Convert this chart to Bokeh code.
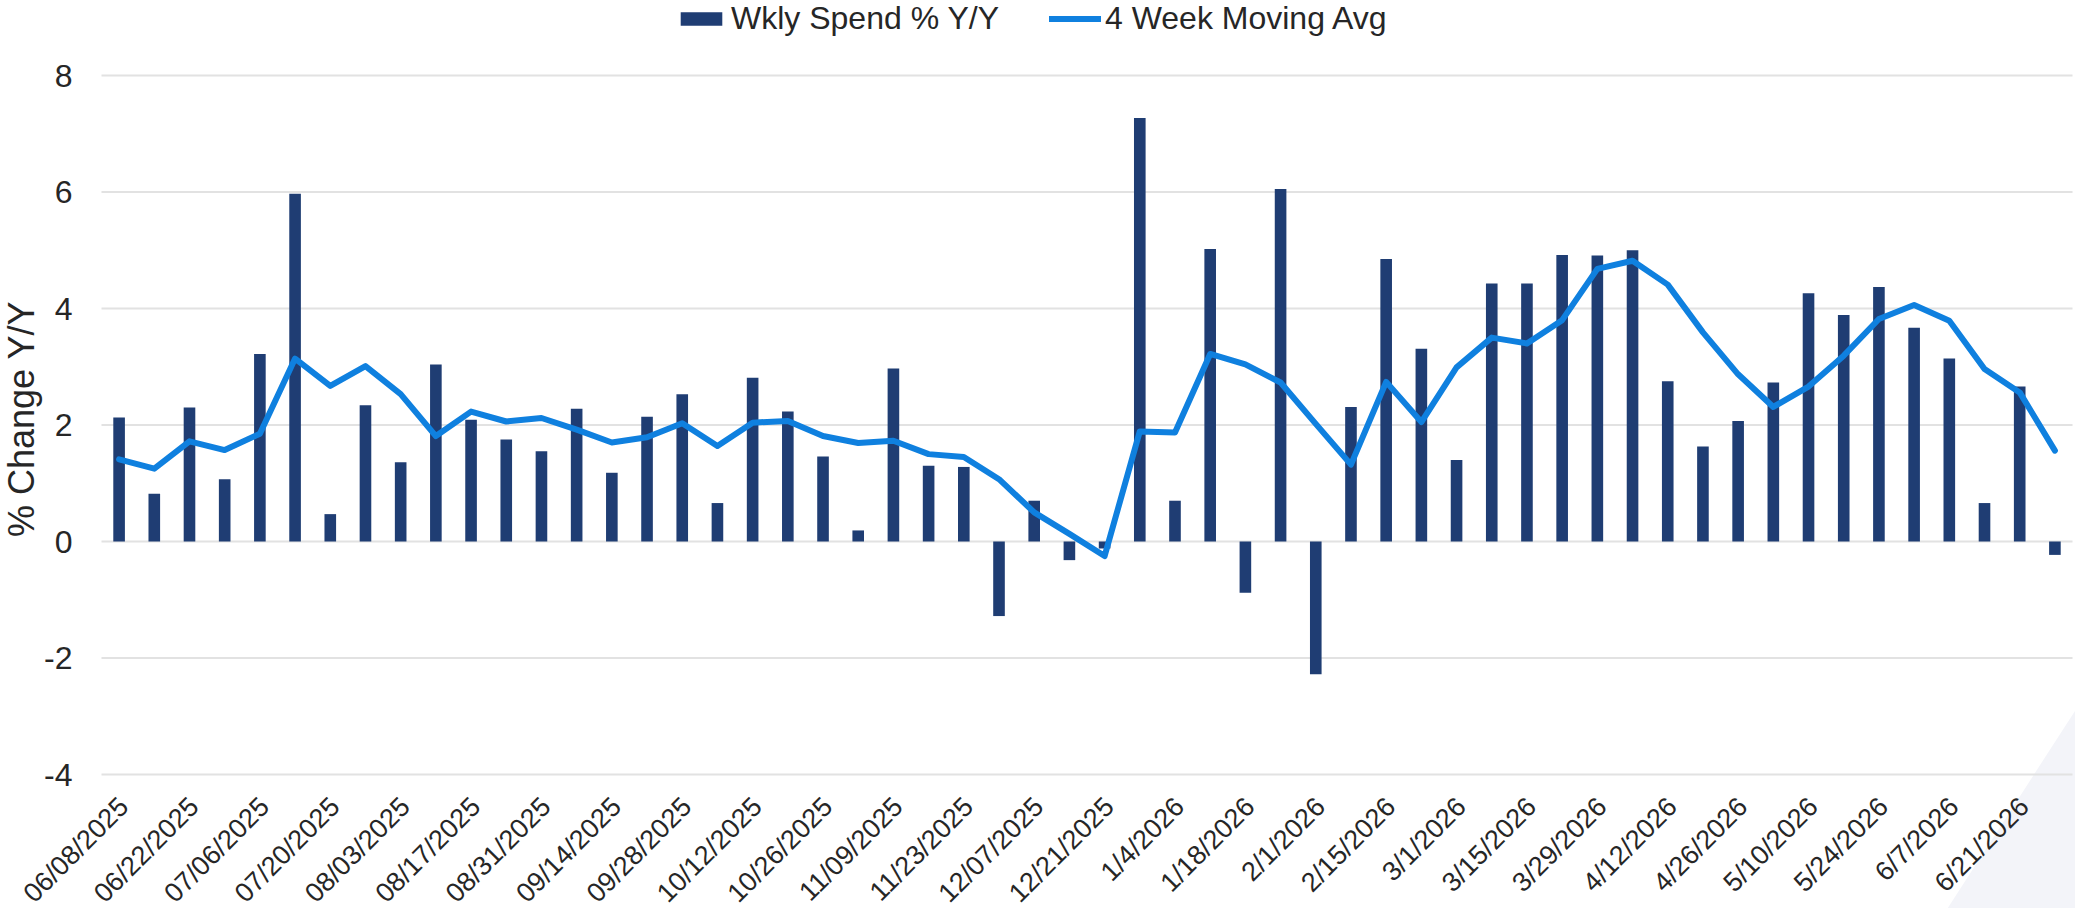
import math
import pandas as pd
from bokeh.plotting import figure
from bokeh.models import (ColumnDataSource, Range1d, Legend, LegendItem, Label,
                          PolyAnnotation, GlobalInlineStyleSheet, LabelSet)
from bokeh.core.properties import value
from bokeh.embed import file_html
from bokeh.resources import INLINE

# ---------------- data ----------------
weeks = pd.date_range("2025-06-08", periods=56, freq="7D")

weekly_spend = [2.13, 0.82, 2.30, 1.07, 3.22, 5.97, 0.47, 2.34, 1.36, 3.04,
                2.09, 1.75, 1.55, 2.28, 1.18, 2.14, 2.53, 0.66, 2.81, 2.23,
                1.46, 0.19, 2.97, 1.30, 1.28, -1.28, 0.70, -0.32, -0.12, 7.27,
                0.70, 5.02, -0.88, 6.05, -2.28, 2.31, 4.85, 3.31, 1.40, 4.43,
                4.43, 4.92, 4.91, 5.00, 2.75, 1.63, 2.07, 2.73, 4.26, 3.89,
                4.37, 3.67, 3.14, 0.66, 2.66, -0.23]

moving_avg = [1.41, 1.25, 1.72, 1.57, 1.85, 3.14, 2.67, 3.01, 2.53, 1.81,
              2.23, 2.06, 2.12, 1.92, 1.70, 1.79, 2.03, 1.64, 2.04, 2.07,
              1.81, 1.69, 1.73, 1.50, 1.45, 1.07, 0.50, 0.13, -0.25, 1.89,
              1.87, 3.22, 3.04, 2.73, 2.02, 1.32, 2.74, 2.05, 2.99, 3.50,
              3.40, 3.80, 4.68, 4.82, 4.41, 3.59, 2.87, 2.31, 2.66, 3.19,
              3.82, 4.06, 3.79, 2.96, 2.56, 1.56]

tick_labels = ["06/08/2025", "06/22/2025", "07/06/2025", "07/20/2025", "08/03/2025",
               "08/17/2025", "08/31/2025", "09/14/2025", "09/28/2025", "10/12/2025",
               "10/26/2025", "11/09/2025", "11/23/2025", "12/07/2025", "12/21/2025",
               "1/4/2026", "1/18/2026", "2/1/2026", "2/15/2026", "3/1/2026",
               "3/15/2026", "3/29/2026", "4/12/2026", "4/26/2026", "5/10/2026",
               "5/24/2026", "6/7/2026", "6/21/2026"]

y_ticks = [-4, -2, 0, 2, 4, 6, 8]
y_tick_labels = ["-4", "-2", "0", "2", "4", "6", "8"]

series_names = ["Wkly Spend % Y/Y", "4 Week Moving Avg"]
y_title = "% Change Y/Y"

# ---------------- styling / layout ----------------
FONT = "Liberation Sans"
TEXT = "#262626"
BAR_C = "#1f3d73"
LINE_C = "#0f80df"
GRID_C = "#e2e2e2"
DECO_C = "#f3f4f9"

FIG_W, FIG_H = 2075, 908
PLOT_L_PX, PLOT_R_PX = 101, 2072   # left / right ends of the grid lines
TOP_GAP_PX = 75                    # page top -> "8" grid line
PLOT_H_PX = 699                    # "8" grid line -> "-4" grid line
BOTTOM_PX = FIG_H - TOP_GAP_PX - PLOT_H_PX

n = len(weeks)
cat_px = (PLOT_R_PX - PLOT_L_PX) / n
px_per_unit = PLOT_H_PX / (y_ticks[-1] - y_ticks[0])
# the drawing frame covers the whole page so that every text (legend, axis
# labels, rotated dates) and the corner decoration are drawn inside it
x_lo = -0.5 - PLOT_L_PX / cat_px
x_hi = n - 0.5 + (FIG_W - PLOT_R_PX) / cat_px
y_top = y_ticks[-1] + TOP_GAP_PX / px_per_unit
y_bot = y_ticks[0] - BOTTOM_PX / px_per_unit

x_idx = list(range(n))
src = ColumnDataSource(dict(x=x_idx, spend=weekly_spend, ma=moving_avg))
tick_idx = x_idx[::2]

p = figure(width=FIG_W, height=FIG_H, output_backend="svg", toolbar_location=None,
           x_range=Range1d(x_lo, x_hi), y_range=Range1d(y_bot, y_top),
           x_axis_location=None, y_axis_location=None,
           min_border_left=0, min_border_right=0, min_border_top=0, min_border_bottom=0)
p.outline_line_color = None
p.background_fill_color = "white"
p.border_fill_color = "white"
p.grid.visible = False
p.stylesheets = [GlobalInlineStyleSheet(css="html, body { overflow: hidden; }")]

# faint decorative corner shape (bottom right of the page)
deco = PolyAnnotation(xs=[55.58, 51.2, 57.5, 57.5], ys=[-2.90, -7.0, -7.0, -2.90],
                      fill_color=DECO_C, fill_alpha=1.0, line_color=None, level="image")
p.add_layout(deco)

# horizontal grid lines across the category span
p.segment(x0=[-0.5] * len(y_ticks), x1=[n - 0.5] * len(y_ticks), y0=y_ticks, y1=y_ticks,
          line_color=GRID_C, line_width=2)

bars = p.vbar(x="x", top="spend", width=0.33, source=src, fill_color=BAR_C, line_color=None)
line = p.line(x="x", y="ma", source=src, line_width=6, line_color=LINE_C,
              line_join="round", line_cap="round")

# y tick labels
ytick_src = ColumnDataSource(dict(x=[-0.5] * len(y_ticks), y=y_ticks, text=y_tick_labels))
p.add_layout(LabelSet(x="x", y="y", text="text", source=ytick_src, x_offset=-29,
                      text_align="right", text_baseline="middle",
                      text_font=value(FONT), text_font_size="32px", text_color=TEXT))

# y-axis title
p.add_layout(Label(x=-0.5, y=(y_ticks[0] + y_ticks[-1]) / 2, x_offset=-80, y_offset=6,
                   text=y_title, angle=math.pi / 2, text_align="center",
                   text_baseline="middle", text_font=FONT, text_font_size="36px",
                   text_color=TEXT))

# rotated date labels under the -4 grid line
tick_src = ColumnDataSource(dict(x=tick_idx, y=[y_ticks[0]] * len(tick_idx), text=tick_labels))
p.add_layout(LabelSet(x="x", y="y", text="text", source=tick_src, angle=math.pi / 4,
                      text_align="right", text_baseline="top", x_offset=-6, y_offset=-17,
                      text_font=value(FONT), text_font_size="27px", text_color=TEXT))

legend = Legend(items=[LegendItem(label=series_names[0], renderers=[bars]),
                       LegendItem(label=series_names[1], renderers=[line])],
                orientation="horizontal",
                location=(675, FIG_H - 37),
                padding=0, margin=0,
                spacing=50, glyph_width=52, glyph_height=17, label_standoff=4,
                label_text_font=FONT, label_text_font_size="32px", label_text_color=TEXT,
                border_line_color=None, background_fill_alpha=0)
p.add_layout(legend)

open("out.html", "w").write(file_html(p, INLINE))
